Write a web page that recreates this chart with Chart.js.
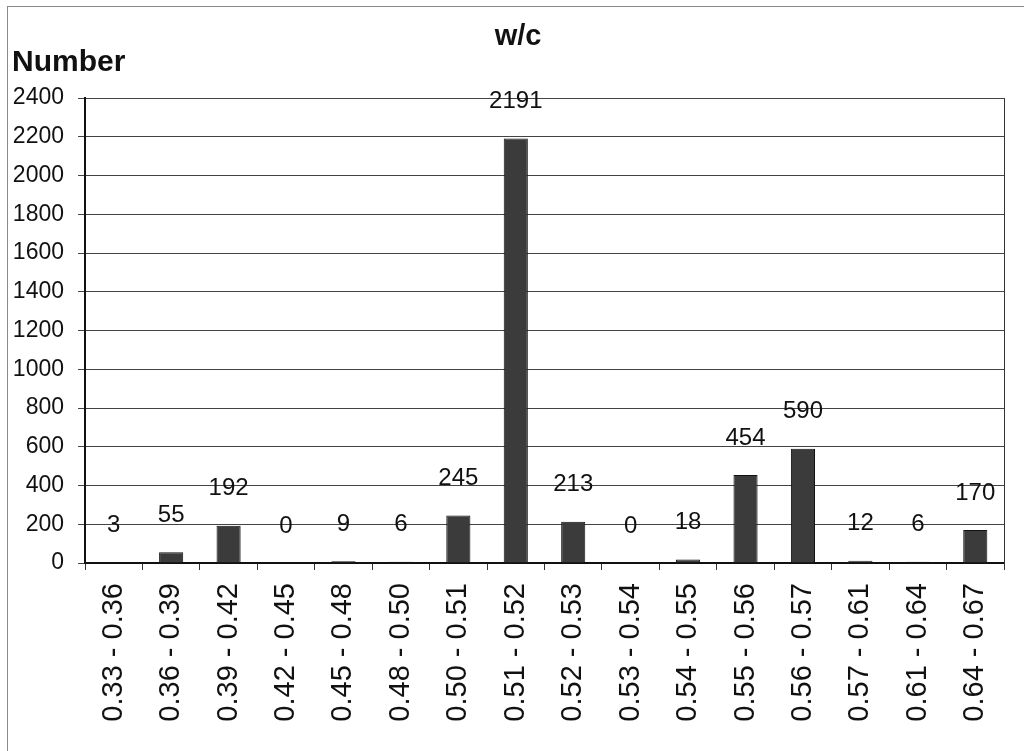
<!DOCTYPE html>
<html>
<head>
<meta charset="utf-8">
<script src="https://cdn.jsdelivr.net/npm/chart.js@4.4.1/dist/chart.umd.min.js"></script>
<style>
  html, body { margin: 0; padding: 0; background: #fff; overflow: hidden; }
  #wrap { position: relative; width: 1024px; height: 751px; overflow: hidden; background: #fff; }
  #frame { position: absolute; left: 7px; top: 6px; width: 1040px; height: 770px; border: 1px solid #8a8a8a; box-sizing: border-box; pointer-events: none; }
  canvas { position: absolute; left: 0; top: 0; }
</style>
</head>
<body>
<div id="wrap">
  <canvas id="c" width="1024" height="751"></canvas>
  <div id="frame"></div>
</div>
<script>
const categories = ["0.33 - 0.36","0.36 - 0.39","0.39 - 0.42","0.42 - 0.45","0.45 - 0.48","0.48 - 0.50","0.50 - 0.51","0.51 - 0.52","0.52 - 0.53","0.53 - 0.54","0.54 - 0.55","0.55 - 0.56","0.56 - 0.57","0.57 - 0.61","0.61 - 0.64","0.64 - 0.67"];
const counts = [3, 55, 192, 0, 9, 6, 245, 2191, 213, 0, 18, 454, 590, 12, 6, 170];
const chartTitle = "w/c";
const yAxisTitle = "Number";
const yMin = 0, yMax = 2400, yStep = 200;

const sans = "'Liberation Sans', Arial, sans-serif";

const valueLabels = {
  id: 'valueLabels',
  afterDatasetsDraw(chart) {
    const ctx = chart.ctx;
    const meta = chart.getDatasetMeta(0);
    ctx.save();
    ctx.font = "24px " + sans;
    ctx.fillStyle = "#111";
    ctx.textAlign = "center";
    ctx.textBaseline = "middle";
    meta.data.forEach((bar, i) => {
      ctx.fillText(String(chart.data.datasets[0].data[i]), bar.x, bar.y - 37);
    });
    ctx.restore();
  }
};

new Chart(document.getElementById('c'), {
  type: 'bar',
  data: {
    labels: categories,
    datasets: [{
      data: counts,
      backgroundColor: '#3b3b3b',
      borderColor: '#111',
      borderWidth: 1,
      barPercentage: 0.42,
      categoryPercentage: 1.0
    }]
  },
  options: {
    responsive: false,
    animation: false,
    devicePixelRatio: 1,
    layout: { padding: { left: 12, right: 0, top: 0, bottom: 0 } },
    plugins: {
      legend: { display: false },
      tooltip: { enabled: false },
      title: {
        display: true,
        text: chartTitle,
        color: '#111',
        font: { family: sans, size: 29, weight: 'bold', lineHeight: 0.8 },
        padding: { top: 25.4, bottom: 0 }
      },
      subtitle: {
        display: true,
        text: yAxisTitle,
        align: 'start',
        color: '#111',
        font: { family: sans, size: 30, weight: 'bold', lineHeight: 0.8 },
        padding: { top: 2.4, bottom: 23 }
      }
    },
    scales: {
      x: {
        offset: true,
        grid: { display: true, drawOnChartArea: false, drawTicks: true, tickLength: 7, color: '#333', offset: true },
        border: { display: true, color: '#111', width: 2 },
        ticks: { autoSkip: false, minRotation: 90, maxRotation: 90, padding: 13, color: '#111', font: { family: sans, size: 29 } },
        afterFit(s) { s.height = 188; }
      },
      y: {
        min: yMin, max: yMax,
        grid: { color: '#444', lineWidth: 1, drawTicks: true, tickLength: 7 },
        border: { display: true, color: '#111', width: 2 },
        ticks: { stepSize: yStep, padding: 14, color: '#111', font: { family: sans, size: 23 }, callback: (v) => String(v) },
        afterFit(s) { s.width = 73; }
      },
      y2: {
        position: 'right',
        display: true,
        grid: { display: false, drawTicks: false },
        border: { display: true, color: '#333', width: 1 },
        ticks: { display: false },
        afterFit(s) { s.width = 20; }
      }
    }
  },
  plugins: [valueLabels]
});
</script>
</body>
</html>
